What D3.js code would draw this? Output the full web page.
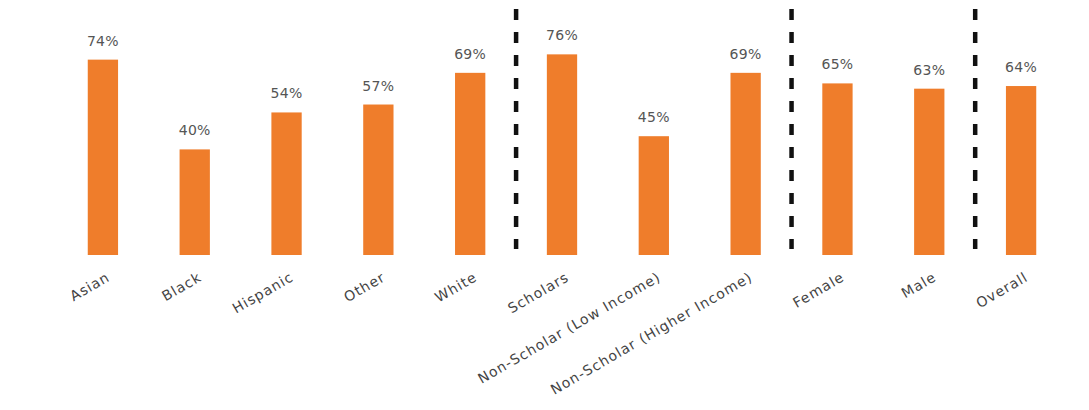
<!DOCTYPE html>
<html>
<head>
<meta charset="utf-8">
<script src="https://cdn.jsdelivr.net/npm/d3@7"></script>
<style>
  html, body { margin: 0; padding: 0; background: #ffffff; }
  svg { display: block; }
</style>
</head>
<body>
<svg id="chart" width="1089" height="410"></svg>
<script>
// Share of students in each group (percent)
const categories = ["Asian", "Black", "Hispanic", "Other", "White", "Scholars",
  "Non-Scholar (Low Income)", "Non-Scholar (Higher Income)", "Female", "Male", "Overall"];
const values = [74, 40, 54, 57, 69, 76, 45, 69, 65, 63, 64];
// Dashed separators sit after these categories
const groupEnds = ["White", "Non-Scholar (Higher Income)", "Male"];

const svg = d3.select("#chart");
const baseY = 255;

const x = d3.scaleBand()
  .domain(categories)
  .range([57, 1067])
  .paddingInner(0.67)
  .paddingOuter(0.335);

const y = d3.scaleLinear()
  .domain([0, 100])
  .range([baseY, baseY - 264]);

const fontFamily = "'DejaVu Sans', 'Open Sans', sans-serif";

// Bars
svg.append("g")
  .selectAll("rect")
  .data(categories)
  .join("rect")
  .attr("x", d => x(d))
  .attr("y", (d, i) => y(values[i]))
  .attr("width", x.bandwidth())
  .attr("height", (d, i) => y(0) - y(values[i]))
  .attr("fill", "#ef7d2b");

// Value labels
svg.append("g")
  .selectAll("text")
  .data(categories)
  .join("text")
  .attr("x", d => x(d) + x.bandwidth() / 2)
  .attr("y", (d, i) => y(values[i]) - 14)
  .attr("text-anchor", "middle")
  .attr("font-family", fontFamily)
  .attr("font-size", 14)
  .attr("letter-spacing", 0.3)
  .attr("fill", "#555555")
  .text((d, i) => values[i] + "%");

// Category axis (rotated labels, no line or ticks)
const axis = svg.append("g")
  .attr("transform", `translate(0,${baseY})`)
  .call(d3.axisBottom(x).tickSize(0).tickPadding(0));
axis.select(".domain").remove();
axis.selectAll("text")
  .attr("font-family", fontFamily)
  .attr("font-size", 14)
  .attr("letter-spacing", 1)
  .attr("fill", "#444444")
  .attr("text-anchor", "end")
  .attr("dy", null)
  .attr("y", 0)
  .attr("transform", "translate(8,25) rotate(-30)");

// Dashed group separators
const step = x.step();
svg.append("g")
  .selectAll("line")
  .data(groupEnds)
  .join("line")
  .attr("x1", d => x(d) + x.bandwidth() / 2 + step / 2)
  .attr("x2", d => x(d) + x.bandwidth() / 2 + step / 2)
  .attr("y1", 9)
  .attr("y2", 249)
  .attr("stroke", "#111111")
  .attr("stroke-width", 4.5)
  .attr("stroke-dasharray", "11,12");
</script>
</body>
</html>
